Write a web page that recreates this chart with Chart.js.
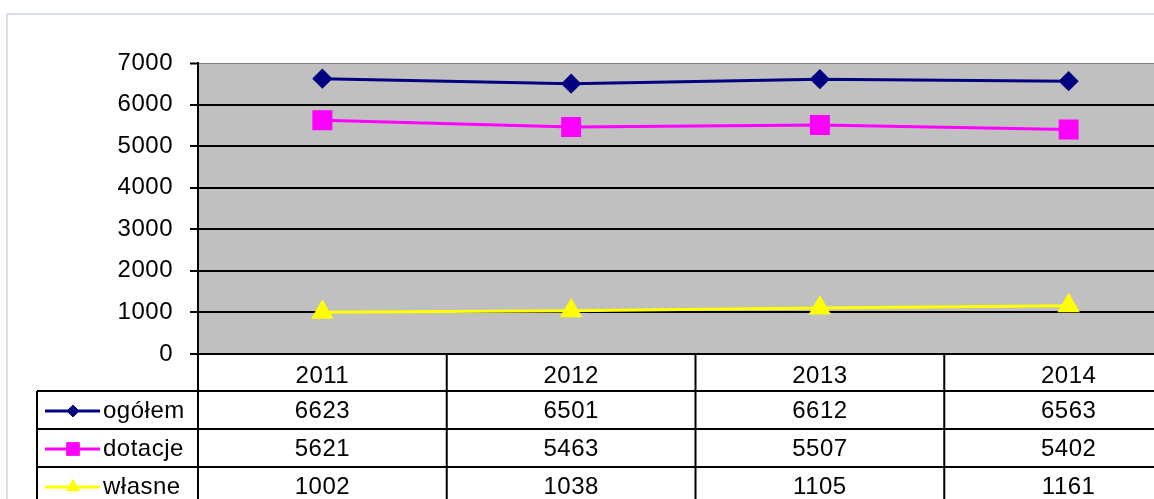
<!DOCTYPE html>
<html>
<head>
<meta charset="utf-8">
<script src="https://cdn.jsdelivr.net/npm/chart.js@4/dist/chart.umd.min.js"></script>
<style>
  body { margin: 0; background: #fff; overflow: hidden; width: 1154px; height: 499px; position: relative; }
  #frame { position: absolute; left: 6px; top: 13px; width: 1300px; height: 700px; border: 2px solid #d9dfeb; }
  #wrap { position: absolute; left: 0; top: 0; width: 1208px; height: 520px; }
</style>
</head>
<body>
<div id="frame"></div>
<div id="wrap"><canvas id="myChart" width="1208" height="520"></canvas></div>
<script>
// data
var years = ["2011", "2012", "2013", "2014"];
var seriesNames = ["ogółem", "dotacje", "własne"];
var ogolem = [6623, 6501, 6612, 6563];
var dotacje = [5621, 5463, 5507, 5402];
var wlasne = [1002, 1038, 1105, 1161];
var yTicks = [0, 1000, 2000, 3000, 4000, 5000, 6000, 7000];

var fontFamily = '"Liberation Sans", Arial, sans-serif';
var fontSize = 24;

// gray plot area like the old excel charts, plus a bit wider text (gdi look)
var plotBackground = {
    id: 'plotBackground',
    beforeDraw: function(chart) {
        var a = chart.chartArea;
        var ctx = chart.ctx;
        ctx.letterSpacing = '0.5px';
        ctx.save();
        ctx.fillStyle = '#C0C0C0';
        ctx.fillRect(a.left, a.top, a.right - a.left, a.bottom - a.top);
        ctx.restore();
    }
};

// data table under the x axis (years come from the x axis labels)
var dataTable = {
    id: 'dataTable',
    afterDraw: function(chart) {
        var ctx = chart.ctx;
        var a = chart.chartArea;
        var xs = chart.scales.x;
        var rowH = 38;
        var headTop = a.bottom;
        var bodyTop = headTop + 37;
        var legendLeft = 37;
        var bottom = 560;
        ctx.save();
        ctx.strokeStyle = '#000';
        ctx.lineWidth = 2;
        // horizontal lines
        ctx.beginPath();
        for (var r = 0; r < 4; r++) {
            var y = bodyTop + r * rowH;
            ctx.moveTo(legendLeft, y);
            ctx.lineTo(a.right, y);
        }
        // left edge of legend column
        ctx.moveTo(legendLeft, bodyTop);
        ctx.lineTo(legendLeft, bottom);
        // column separators
        var step = (a.right - a.left) / years.length;
        for (var c = 0; c <= years.length; c++) {
            var x = a.left + c * step;
            ctx.moveTo(x, headTop);
            ctx.lineTo(x, bottom);
        }
        ctx.stroke();

        ctx.font = fontSize + 'px ' + fontFamily;
        ctx.fillStyle = '#000';
        ctx.textBaseline = 'middle';
        chart.data.datasets.forEach(function(ds, i) {
            var cy = bodyTop + i * rowH + rowH / 2 + 1;
            // legend sample
            ctx.strokeStyle = ds.borderColor;
            ctx.lineWidth = 3;
            ctx.beginPath();
            ctx.moveTo(45, cy);
            ctx.lineTo(100, cy);
            ctx.stroke();
            ctx.fillStyle = ds.pointBackgroundColor;
            ctx.strokeStyle = ds.pointBorderColor;
            ctx.lineWidth = 1;
            Chart.helpers.drawPoint(ctx, {pointStyle: ds.pointStyle, radius: ds.pointRadius * 0.75, borderWidth: 1}, 73, cy);
            ctx.fillStyle = '#000';
            ctx.textAlign = 'left';
            ctx.fillText(ds.label, 103, cy);
            // values
            ctx.textAlign = 'center';
            ds.data.forEach(function(v, j) {
                ctx.fillText(String(v), xs.getPixelForValue(j), cy);
            });
        });
        ctx.restore();
    }
};

var ctx = document.getElementById('myChart').getContext('2d');
var myChart = new Chart(ctx, {
    type: 'line',
    data: {
        labels: years,
        datasets: [{
            label: seriesNames[0],
            data: ogolem,
            borderColor: '#000080',
            pointBackgroundColor: '#000080',
            pointBorderColor: '#000080',
            pointStyle: 'rectRot',
            pointRadius: 8,
            borderWidth: 3
        }, {
            label: seriesNames[1],
            data: dotacje,
            borderColor: '#FF00FF',
            pointBackgroundColor: '#FF00FF',
            pointBorderColor: '#FF00FF',
            pointStyle: 'rect',
            pointRadius: 12,
            borderWidth: 3
        }, {
            label: seriesNames[2],
            data: wlasne,
            borderColor: '#FFFF00',
            pointBackgroundColor: '#FFFF00',
            pointBorderColor: '#FFFF00',
            pointStyle: 'triangle',
            pointRadius: 10,
            borderWidth: 3
        }]
    },
    options: {
        responsive: false,
        animation: false,
        layout: {
            padding: { left: 0, top: 63, right: 0, bottom: 0 }
        },
        scales: {
            x: {
                offset: true,
                afterFit: function(scale) { scale.height = 166; },
                grid: { display: false },
                border: { display: true, color: '#000', width: 2 },
                ticks: {
                    color: '#000',
                    padding: 0,
                    font: { family: fontFamily, size: fontSize }
                }
            },
            y: {
                min: yTicks[0],
                max: yTicks[yTicks.length - 1],
                afterFit: function(scale) { scale.width = 198; },
                afterBuildTicks: function(scale) {
                    scale.ticks = yTicks.map(function(v) { return { value: v }; });
                },
                grid: {
                    color: function(c) { return c.tick && c.tick.value === 7000 ? '#808080' : '#000'; },
                    lineWidth: function(c) { return c.tick && c.tick.value === 7000 ? 1 : 2; },
                    tickColor: '#000',
                    tickWidth: 2,
                    tickLength: 8
                },
                border: { display: true, color: '#000', width: 2 },
                ticks: {
                    color: '#000',
                    padding: 17,
                    font: { family: fontFamily, size: fontSize },
                    callback: function(v) { return String(v); }
                }
            }
        },
        plugins: {
            legend: { display: false },
            tooltip: { enabled: false }
        }
    },
    plugins: [plotBackground, dataTable]
});
</script>
</body>
</html>
